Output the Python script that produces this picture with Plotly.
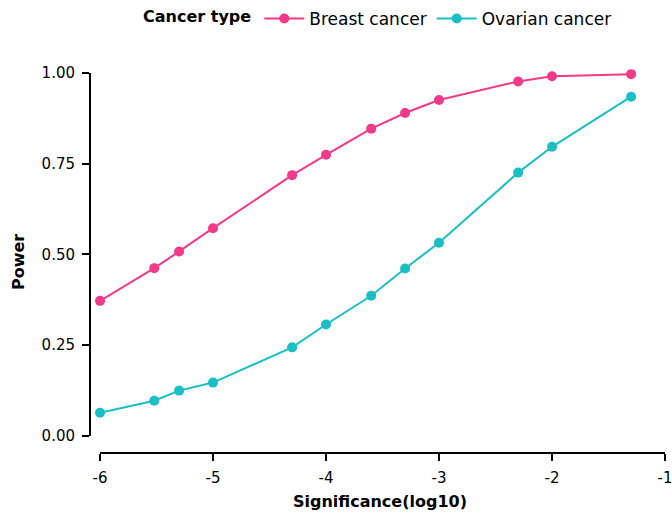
import plotly.graph_objects as go

W, H = 672, 518

significance_log10 = [-6, -5.52, -5.3, -5, -4.3, -4, -3.6, -3.3, -3, -2.3, -2, -1.3]
breast_power = [0.372, 0.462, 0.508, 0.572, 0.718, 0.774, 0.846, 0.889, 0.925, 0.976, 0.990, 0.996]
ovarian_power = [0.064, 0.097, 0.125, 0.147, 0.244, 0.307, 0.386, 0.461, 0.532, 0.725, 0.796, 0.934]

series_names = ["Breast cancer", "Ovarian cancer"]
series_colors = ["#F2398A", "#1ABFC5"]
x_ticks = [-6, -5, -4, -3, -2, -1]
y_ticks = [0, 0.25, 0.5, 0.75, 1.0]
y_tick_labels = ["0.00", "0.25", "0.50", "0.75", "1.00"]

FONT = "DejaVu Sans"

fig = go.Figure()
for name, vals, col in zip(series_names, [breast_power, ovarian_power], series_colors):
    fig.add_trace(go.Scatter(
        x=significance_log10, y=vals, name=name, mode="lines+markers",
        line=dict(color=col, width=2),
        marker=dict(color=col, size=10),
        cliponaxis=False,
    ))

# pixel helpers for layout placement
def px_x(p):
    return p / W

def px_y(p):
    return (H - p) / H

fig.update_layout(
    width=W, height=H,
    margin=dict(l=0, r=0, t=0, b=0, autoexpand=False),
    paper_bgcolor="white", plot_bgcolor="white",
    font=dict(family=FONT, color="black", size=15),
    showlegend=True,
    legend=dict(
        orientation="h",
        x=px_x(141), xanchor="left",
        y=px_y(1), yanchor="top",
        title=dict(text="<b>Cancer type</b>", font=dict(size=16, family=FONT)),
        font=dict(size=17, family=FONT),
        bgcolor="rgba(0,0,0,0)",
        itemwidth=40,
    ),
    xaxis=dict(
        domain=[px_x(100), px_x(665)],
        range=[-6, -1],
        anchor="free", position=px_y(453),
        automargin=False,
        tickvals=x_ticks,
        ticktext=[str(v) for v in x_ticks],
        ticks="outside", ticklen=7, tickwidth=2, tickcolor="black",
        ticklabelstandoff=4,
        ticklabeloverflow="allow",
        showline=True, linecolor="black", linewidth=2,
        showgrid=False, zeroline=False,
        tickfont=dict(size=15, family=FONT, color="black"),
    ),
    yaxis=dict(
        domain=[px_y(436), px_y(72.7)],
        range=[0, 1],
        anchor="free", position=px_x(90),
        automargin=False,
        tickvals=y_ticks,
        ticktext=y_tick_labels,
        ticks="outside", ticklen=7, tickwidth=2, tickcolor="black",
        ticklabelstandoff=4,
        ticklabeloverflow="allow",
        showline=True, linecolor="black", linewidth=2,
        showgrid=False, zeroline=False,
        tickfont=dict(size=15, family=FONT, color="black"),
    ),
    annotations=[
        dict(text="<b>Significance(log10)</b>", xref="paper", yref="paper",
             x=px_x(380), y=px_y(501), xanchor="center", yanchor="middle",
             showarrow=False, font=dict(size=16, family=FONT, color="black")),
        dict(text="<b>Power</b>", xref="paper", yref="paper",
             x=px_x(18), y=px_y(262), xanchor="center", yanchor="middle",
             textangle=-90, showarrow=False,
             font=dict(size=16, family=FONT, color="black")),
    ],
)

fig.write_html("out.html")
